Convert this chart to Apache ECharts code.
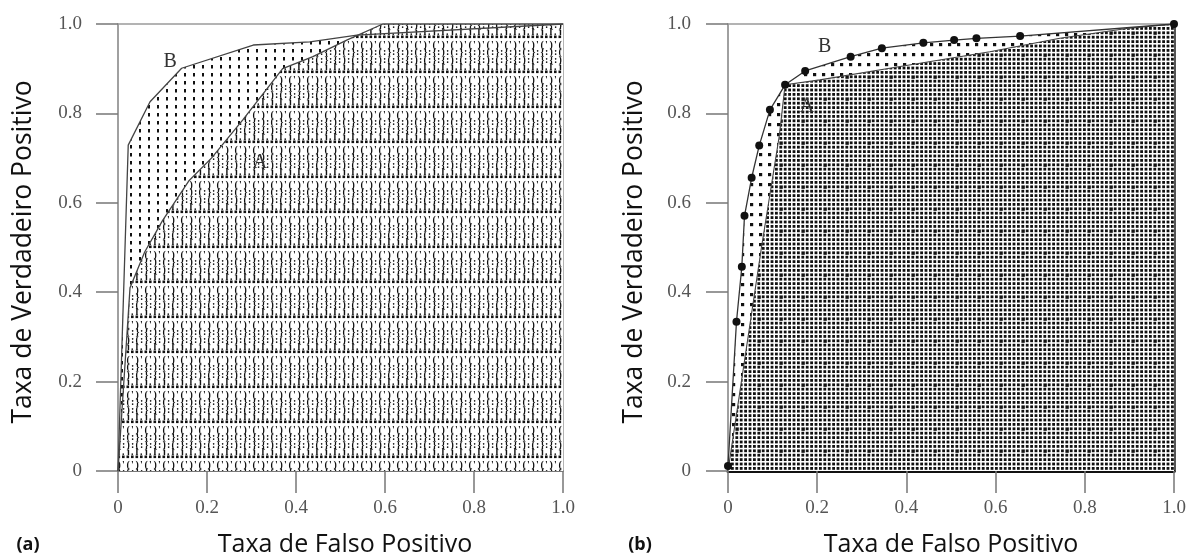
<!DOCTYPE html>
<html><head><meta charset="utf-8">
<script src="https://cdn.jsdelivr.net/npm/echarts@6/dist/echarts.min.js"></script>
<style>html,body{margin:0;padding:0;background:#fff;}#c{width:1190px;height:557px;}</style>
</head><body><div id="c"></div>
<script>
// ---- data ----
const tickValues = [0, 0.2, 0.4, 0.6, 0.8, 1.0];
const tickLabels = ['0', '0.2', '0.4', '0.6', '0.8', '1.0'];
const xTitle = 'Taxa de Falso Positivo';
const yTitle = 'Taxa de Verdadeiro Positivo';
const panelTags = ['(a)', '(b)'];
// panel (a)
const aCurveA = [[0,0],[0.027,0.41],[0.06,0.49],[0.1,0.56],[0.16,0.65],[0.21,0.70],[0.28,0.785],[0.37,0.90],[0.438,0.927],[0.514,0.964],[0.595,1.0],[1,1]];
const aCurveB = [[0,0],[0.023,0.729],[0.072,0.826],[0.143,0.901],[0.304,0.953],[0.431,0.96],[0.537,0.975],[1,1]];
// panel (b)
const bCurveA = [[0,0],[0.075,0.5],[0.115,0.75],[0.128,0.864],[0.206,0.875],[0.386,0.905],[0.587,0.938],[0.744,0.968],[0.894,0.99],[1,1]];
const bCurveB = [[0,0.011],[0.019,0.334],[0.031,0.457],[0.037,0.571],[0.053,0.656],[0.07,0.728],[0.094,0.808],[0.128,0.864],[0.173,0.895],[0.275,0.927],[0.345,0.946],[0.438,0.958],[0.507,0.964],[0.557,0.968],[0.655,0.973],[1,1]];
// label anchors (data coords)
const aLabelPos = {A: [0.319, 0.689], B: [0.117, 0.915]};
const bLabelPos = {A: [0.177, 0.814], B: [0.217, 0.949]};

// ---- patterns ----
function mk(w, h, fn) { const c = document.createElement('canvas'); c.width = w; c.height = h; const g = c.getContext('2d'); g.fillStyle = '#fff'; g.fillRect(0, 0, w, h); g.fillStyle = '#111'; fn(g); return c; }
const patAB = mk(9, 8, g => { g.fillRect(4, 1, 2, 3.5); });
const patAA = mk(36, 35, g => {
  for (let i = 0; i < 8; i++) g.fillRect(i * 4.5 + 0.5, 0.5, 2.6, 2.6);
  g.font = 'bold 10px "Liberation Serif"'; g.textBaseline = 'top';
  const rows = [[5, ["(", "'", ")", "'", "(", "'", ")", "'"]], [12, ["{", ":", ")", ":", "(", ":", "}", ":"]], [20, ["}", ":", "{", ":", ")", ":", "(", ":"]], [27, ["j", ".", "l", ".", "j", ".", "l", "."]]];
  rows.forEach(([y, gl]) => gl.forEach((ch, i) => g.fillText(ch, i * 4.5 + 0.5, y)));
});
const patBA = mk(22, 22, g => {
  for (let i = 0; i < 5; i++) for (let j = 0; j < 5; j++) {
    const s = (i === 2 && j === 2) ? 3.4 : 2.8;
    g.fillRect(i * 4.4 + 0.6, j * 4.4 + 0.6, s, s);
  }
});
const patBB = mk(9, 10, g => { g.fillRect(3, 3, 3.2, 3.2); });

// ---- chart ----
const labelFont = {fontFamily: 'Liberation Serif', fontSize: 19, color: '#555'};
const fmt = v => tickLabels[tickValues.findIndex(t => Math.abs(t - v) < 1e-6)];
function xAx(gi, lineColor, lineW) {
  return {type: 'value', gridIndex: gi, min: 0, max: 1, interval: 0.2,
    axisLine: {show: true, onZero: false, lineStyle: {color: lineColor, width: lineW}},
    axisTick: {show: true, inside: false, length: 22, lineStyle: {color: '#777', width: 1.5}},
    axisLabel: Object.assign({margin: 28, formatter: fmt}, labelFont),
    splitLine: {show: false}};
}
function yAx(gi, margin) {
  return {type: 'value', gridIndex: gi, min: 0, max: 1, interval: 0.2,
    axisLine: {show: true, onZero: false, lineStyle: {color: '#9a9a9a', width: 1.5}},
    axisTick: {show: true, inside: false, length: 22, lineStyle: {color: '#777', width: 1.5}},
    axisLabel: Object.assign({margin: margin, formatter: fmt}, labelFont),
    splitLine: {show: false}};
}
function areaS(data, xi, pat) {
  return {type: 'line', xAxisIndex: xi, yAxisIndex: xi, data: data, symbol: 'none', lineStyle: {width: 0}, areaStyle: {color: {image: pat, repeat: 'repeat'}, opacity: 1}, silent: true, z: 2};
}
function lineS(data, xi, color, w, names, pos, withDots) {
  const s = {type: 'line', xAxisIndex: xi, yAxisIndex: xi, data: data, lineStyle: {color: color, width: w}, z: 4, silent: true,
    symbol: withDots ? 'circle' : 'none', symbolSize: 8, showSymbol: !!withDots, itemStyle: {color: '#111'}};
  s.markPoint = {symbol: 'rect', symbolSize: 1, itemStyle: {color: 'rgba(0,0,0,0)'},
    label: {show: true, position: 'inside', formatter: '{b}', fontFamily: 'Liberation Serif', fontSize: 20, color: '#333'},
    data: names.map(n => ({name: n, coord: pos[n]}))};
  return s;
}
const chart = echarts.init(document.getElementById('c'), null, {renderer: 'canvas'});
const titleX = '25px "Open Sans"', titleY = '26.5px "Open Sans"';
chart.setOption({
  animation: false,
  backgroundColor: '#fff',
  grid: [
    {left: 118, top: 24, width: 445, height: 447, show: true, borderColor: '#9a9a9a', borderWidth: 1.5, backgroundColor: 'transparent'},
    {left: 728, top: 24, width: 446, height: 447, show: true, borderColor: '#9a9a9a', borderWidth: 1.5, backgroundColor: 'transparent'}
  ],
  xAxis: [xAx(0, '#666', 1.5), xAx(1, '#111', 3)],
  yAxis: [yAx(0, 36), yAx(1, 37),
    {type: 'value', gridIndex: 1, min: 0, max: 1, position: 'right', axisLine: {show: true, onZero: false, lineStyle: {color: '#555', width: 3}}, axisTick: {show: false}, axisLabel: {show: false}, splitLine: {show: false}}],
  series: [
    areaS(aCurveB, 0, patAB),
    areaS(aCurveA, 0, patAA),
    lineS(aCurveA, 0, '#444', 1.3, ['A'], aLabelPos, false),
    lineS(aCurveB, 0, '#444', 1.3, ['B'], aLabelPos, false),
    areaS(bCurveB, 1, patBB),
    areaS(bCurveA, 1, patBA),
    lineS(bCurveA, 1, '#444', 1.1, ['A'], bLabelPos, false),
    lineS(bCurveB, 1, '#333', 1.3, ['B'], bLabelPos, true)
  ],
  graphic: [
    {type: 'text', x: 345, y: 545, style: {text: xTitle, font: titleX, fill: '#111', textAlign: 'center', textVerticalAlign: 'middle'}},
    {type: 'text', x: 951, y: 545, style: {text: xTitle, font: titleX, fill: '#111', textAlign: 'center', textVerticalAlign: 'middle'}},
    {type: 'text', x: 23, y: 252, rotation: Math.PI / 2, style: {text: yTitle, font: titleY, fill: '#111', textAlign: 'center', textVerticalAlign: 'middle'}},
    {type: 'text', x: 634, y: 252, rotation: Math.PI / 2, style: {text: yTitle, font: titleY, fill: '#111', textAlign: 'center', textVerticalAlign: 'middle'}},
    {type: 'text', x: 28, y: 545, style: {text: panelTags[0], font: 'bold 18px "Open Sans"', fill: '#111', textAlign: 'center', textVerticalAlign: 'middle'}},
    {type: 'text', x: 640, y: 545, style: {text: panelTags[1], font: 'bold 18px "Open Sans"', fill: '#111', textAlign: 'center', textVerticalAlign: 'middle'}}
  ]
});
</script></body></html>
